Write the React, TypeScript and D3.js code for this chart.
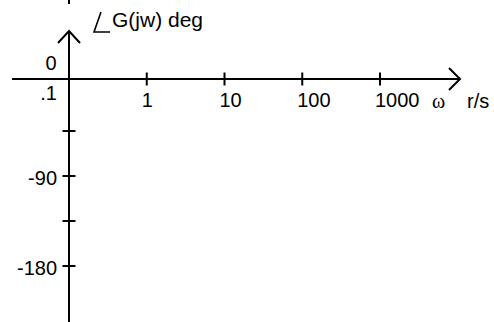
import React from "react";
import * as d3 from "d3";

// Bode phase axes (blank template)
const freqTicks = [1, 10, 100, 1000];
const freqLabels = ["1", "10", "100", "1000"];
const phaseTicks = [-45, -90, -135, -180];
const phaseLabels = [
  { v: -90, t: "-90" },
  { v: -180, t: "-180" },
];
const freqDomain = [0.1, 1000];
// hand-drawn axis: first step is a bit longer than the rest
const phaseDomain = [0, -45, -180];

const width = 494;
const height = 322;
const font = "'Liberation Sans', Arial, sans-serif";

const App = () => {
  const x = d3.scaleLog().domain(freqDomain).range([69, 380]);
  const y = d3.scaleLinear().domain(phaseDomain).range([79, 131, 266]);
  const x0 = x(0.1);
  const y0 = y(0);
  const xEnd = 460;
  const yTop = 31;
  const aw = 11; // arrow wing
  const tk = 6.5;

  return (
    <svg
      width={width}
      height={height}
      style={{ position: "absolute", left: 0, top: 0, background: "#fff" }}
    >
      <g stroke="#000" strokeWidth={2} fill="none">
        {/* x axis + arrow */}
        <line x1={12} y1={y0} x2={xEnd} y2={y0} />
        <polyline
          points={`${xEnd - aw},${y0 - aw} ${xEnd},${y0} ${xEnd - aw},${y0 + aw}`}
        />
        {/* y axis + arrow */}
        <line x1={x0} y1={yTop} x2={x0} y2={height} />
        <polyline
          points={`${x0 - aw},${yTop + aw + 1} ${x0},${yTop} ${x0 + aw},${yTop + aw + 1}`}
        />
        <line x1={x0} y1={0} x2={x0} y2={4} />
        {freqTicks.map(d => (
          <line key={d} x1={x(d)} x2={x(d)} y1={y0 - tk} y2={y0 + tk} />
        ))}
        {phaseTicks.map(d => (
          <line key={d} x1={x0 - tk} x2={x0 + tk} y1={y(d)} y2={y(d)} />
        ))}
        {/* angle sign */}
        <polyline points="101,12 94,32 110,32" strokeWidth={1.6} />
      </g>
      <g fontFamily={font} fontSize={20} fill="#000">
        <text x={112} y={27} fontSize={21}>G(jw) deg</text>
        <text x={x0 - 18} y={y0 - 9} textAnchor="middle">0</text>
        <text x={x0 - 12} y={y0 + 21} textAnchor="end">.1</text>
        {freqTicks.map((d, i) => (
          <text key={d} x={x(d) - 5} y={y0 + 28}>
            {freqLabels[i]}
          </text>
        ))}
        {phaseLabels.map(d => (
          <text key={d.v} x={x0 - 12} y={y(d.v) + 9} textAnchor="end">
            {d.t}
          </text>
        ))}
        <text x={467} y={y0 + 29}>r/s</text>
      </g>
      <text
        x={432}
        y={y0 + 29}
        fontFamily="'Liberation Serif', 'Times New Roman', serif"
        fontSize={20}
        fill="#000"
      >
        ω
      </text>
    </svg>
  );
};

export default App;
